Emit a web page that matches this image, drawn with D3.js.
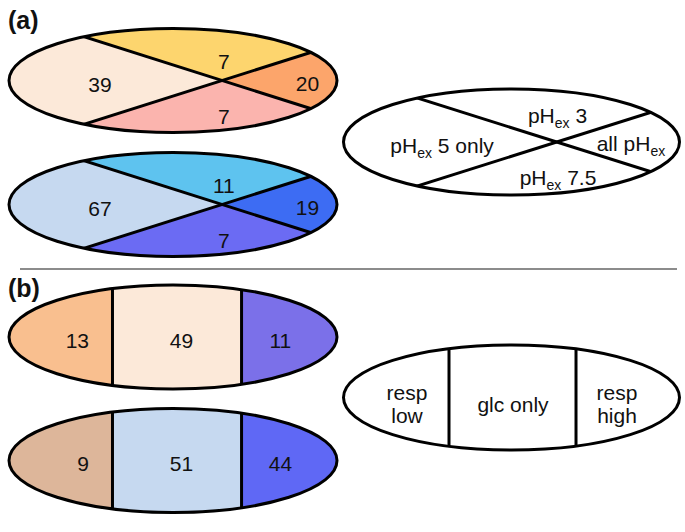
<!DOCTYPE html>
<html>
<head>
<meta charset="utf-8">
<script src="https://cdn.jsdelivr.net/npm/d3@7"></script>
<style>
  html, body { margin: 0; padding: 0; background: #fff; }
  svg { display: block; font-family: "Liberation Sans", Arial, Helvetica, sans-serif; }
</style>
</head>
<body>
<svg id="chart" width="685" height="532"></svg>
<script>
// ---------------- data ----------------
// panel (a): region order = left, top, right, bottom
const regionsA = ["pH_ex 5 only", "pH_ex 3", "all pH_ex", "pH_ex 7.5"];
const countsA1 = [39, 7, 20, 7];
const countsA2 = [67, 11, 19, 7];
const fillsA1 = ["#fce9d9", "#fdd56e", "#fca56b", "#fbb4ae"];
const fillsA2 = ["#c6d9f0", "#5ec3ef", "#3d6cf3", "#6b6bf3"];

// panel (b): region order = left, middle, right
const regionsB = ["resp low", "glc only", "resp high"];
const countsB1 = [13, 49, 11];
const countsB2 = [9, 51, 44];
const fillsB1 = ["#f9bf8f", "#fce9d9", "#7b70e9"];
const fillsB2 = ["#ddb69a", "#c6d9f0", "#5f68f5"];

const panelLabels = ["(a)", "(b)"];

// ---------------- drawing ----------------
const svg = d3.select("#chart");
const defs = svg.append("defs");
const line = d3.line();
let clipId = 0;

function frame(cx, cy, rx, ry) {
  return {
    cx, cy, rx, ry,
    x: d3.scaleLinear().domain([-1, 1]).range([cx - rx, cx + rx]),
    y: d3.scaleLinear().domain([-1, 1]).range([cy - ry, cy + ry])
  };
}
function pts(f, arr) { return arr.map(p => [f.x(p[0]), f.y(p[1])]); }

function ellipseBase(f) {
  const id = "clip" + (clipId++);
  defs.append("clipPath").attr("id", id)
    .append("ellipse").attr("cx", f.cx).attr("cy", f.cy).attr("rx", f.rx).attr("ry", f.ry);
  const g = svg.append("g");
  const inner = g.append("g").attr("clip-path", `url(#${id})`);
  return { g, inner };
}
function outline(g, f) {
  g.append("ellipse").attr("cx", f.cx).attr("cy", f.cy).attr("rx", f.rx).attr("ry", f.ry)
    .attr("fill", "none").attr("stroke", "#000").attr("stroke-width", 3);
}

// four-region "X" ellipse
function drawX(f, px, fills, counts) {
  const { g, inner } = ellipseBase(f);
  const L = 3;
  const polys = [
    [[px, 0], [px - L, -L], [px - L, L]],
    [[px, 0], [px - L, -L], [px + L, -L]],
    [[px, 0], [px + L, -L], [px + L, L]],
    [[px, 0], [px + L, L], [px - L, L]]
  ];
  inner.selectAll("path.reg").data(polys).join("path").attr("class", "reg")
    .attr("d", d => line(pts(f, d)) + "Z")
    .attr("fill", (d, i) => fills ? fills[i] : "#fff");
  inner.selectAll("path.div").data([[[px - L, -L], [px + L, L]], [[px - L, L], [px + L, -L]]])
    .join("path").attr("class", "div")
    .attr("d", d => line(pts(f, d))).attr("stroke", "#000").attr("stroke-width", 3).attr("fill", "none");
  outline(g, f);
  if (counts) {
    const pos = [[-0.445, 0.08], [0.31, -0.375], [0.82, 0.055], [0.31, 0.69]];
    g.selectAll("text").data(counts).join("text")
      .attr("x", (d, i) => f.x(pos[i][0]))
      .attr("y", (d, i) => f.y(pos[i][1]) + 7.5)
      .attr("text-anchor", "middle").attr("font-size", 21).attr("fill", "#111")
      .text(d => d);
  }
  return g;
}

// three-region "column" ellipse
function drawCols(f, a, b, fills, counts) {
  const { g, inner } = ellipseBase(f);
  const L = 3;
  const polys = [
    [[-L, -L], [a, -L], [a, L], [-L, L]],
    [[a, -L], [b, -L], [b, L], [a, L]],
    [[b, -L], [L, -L], [L, L], [b, L]]
  ];
  inner.selectAll("path.reg").data(polys).join("path").attr("class", "reg")
    .attr("d", d => line(pts(f, d)) + "Z")
    .attr("fill", (d, i) => fills ? fills[i] : "#fff");
  inner.selectAll("path.div").data([[[a, -L], [a, L]], [[b, -L], [b, L]]])
    .join("path").attr("class", "div")
    .attr("d", d => line(pts(f, d))).attr("stroke", "#000").attr("stroke-width", 3).attr("fill", "none");
  outline(g, f);
  if (counts) {
    const pos = [[-0.512, 0.065, "end"], [0.052, 0.065, "middle"], [0.655, 0.065, "middle"]];
    g.selectAll("text").data(counts).join("text")
      .attr("x", (d, i) => f.x(pos[i][0]))
      .attr("y", (d, i) => f.y(pos[i][1]) + 7.5)
      .attr("text-anchor", (d, i) => pos[i][2]).attr("font-size", 21).attr("fill", "#111")
      .text(d => d);
  }
  return g;
}

// text with "_ex" style subscript
function richText(g, x, y, label) {
  const t = g.append("text").attr("x", x).attr("y", y)
    .attr("text-anchor", "middle").attr("font-size", 21).attr("fill", "#111");
  const parts = label.split("_ex");
  parts.forEach((p, i) => {
    if (p.length) t.append("tspan").text(p).attr("dy", i > 0 ? -5 : null);
    if (i < parts.length - 1) t.append("tspan").text("ex").attr("font-size", 14).attr("dy", 5);
  });
}

// ---- panel (a) ----
const fa1 = frame(173, 80.5, 164, 52);
const fa2 = frame(173, 204.5, 164, 52);
drawX(fa1, 0.30, fillsA1, countsA1);
drawX(fa2, 0.30, fillsA2, countsA2);

const legA = frame(511.5, 142, 168, 53);
const gLA = drawX(legA, 0.27, null, null);
const legApos = [[-0.413, 0.21], [0.274, -0.36], [0.711, 0.17], [0.277, 0.81]];
regionsA.forEach((r, i) => richText(gLA, legA.x(legApos[i][0]), legA.y(legApos[i][1]), r));

// separator
svg.append("line").attr("x1", 20).attr("x2", 677).attr("y1", 269).attr("y2", 269)
  .attr("stroke", "#8c8c8c").attr("stroke-width", 2);

// ---- panel (b) ----
const fb1 = frame(173, 337, 164, 52);
const fb2 = frame(173, 460.5, 164, 52);
drawCols(fb1, -0.369, 0.418, fillsB1, countsB1);
drawCols(fb2, -0.369, 0.418, fillsB2, countsB2);

const legB = frame(511.5, 397.5, 168, 52.5);
const gLB = drawCols(legB, -0.372, 0.384, null, null);
const legBpos = [-0.622, 0.009, 0.628];
regionsB.forEach((r, i) => {
  const t = gLB.append("text").attr("text-anchor", "middle").attr("font-size", 21).attr("fill", "#111");
  const words = r === "glc only" ? [r] : r.split(" ");
  const y0 = words.length === 1 ? 412 : 400;
  words.forEach((w, j) => t.append("tspan").attr("x", legB.x(legBpos[i])).attr("y", y0 + j * 23).text(w));
});

// panel labels
svg.selectAll("text.plabel").data(panelLabels).join("text").attr("class", "plabel")
  .attr("x", 8).attr("y", (d, i) => i === 0 ? 29 : 297)
  .attr("font-size", 25).attr("font-weight", "bold").attr("fill", "#111")
  .text(d => d);
</script>
</body>
</html>
